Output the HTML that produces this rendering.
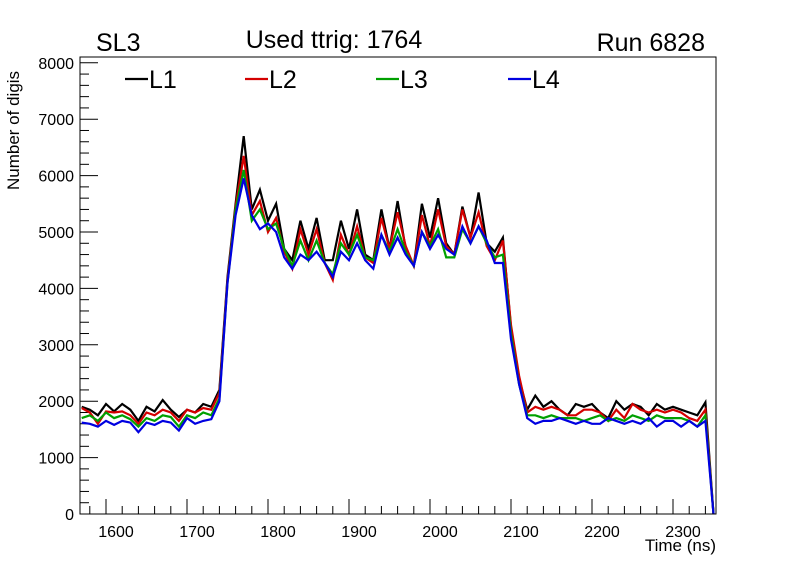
<!DOCTYPE html>
<html><head><meta charset="utf-8"><style>
html,body{margin:0;padding:0;background:#fff;}
svg{display:block;font-family:"Liberation Sans",sans-serif;}
</style></head><body>
<svg id="chart" width="796" height="572" viewBox="0 0 796 572">
<rect width="796" height="572" fill="#fff"/>
<text x="96" y="51" font-size="25">SL3</text>
<text x="334" y="48" font-size="25" text-anchor="middle">Used ttrig: 1764</text>
<text x="705" y="51" font-size="25" text-anchor="end">Run 6828</text>
<text transform="translate(19,190) rotate(-90)" font-size="17">Number of digis</text>
<text x="716" y="551" font-size="17" text-anchor="end">Time (ns)</text>
<g id="ticks"></g>
<g id="series"></g>
<rect x="80" y="57" width="636" height="457" fill="none" stroke="#000" stroke-width="1"/>
<g id="legend"></g>
</svg>
<script>
const times = [1570,1580,1590,1600,1610,1620,1630,1640,1650,1660,1670,1680,1690,1700,1710,1720,1730,1740,1750,1760,1770,1780,1790,1800,1810,1820,1830,1840,1850,1860,1870,1880,1890,1900,1910,1920,1930,1940,1950,1960,1970,1980,1990,2000,2010,2020,2030,2040,2050,2060,2070,2080,2090,2100,2110,2120,2130,2140,2150,2160,2170,2180,2190,2200,2210,2220,2230,2240,2250,2260,2270,2280,2290,2300,2310,2320,2330,2340,2350];
const l1 = [1900,1850,1750,1950,1820,1950,1850,1650,1900,1820,2020,1850,1720,1850,1800,1950,1900,2200,4200,5500,6700,5400,5750,5200,5500,4700,4500,5200,4700,5250,4500,4500,5200,4700,5400,4600,4500,5400,4700,5550,4700,4400,5500,4900,5600,4800,4600,5450,4900,5700,4800,4650,4900,3300,2400,1850,2100,1900,2000,1850,1750,1950,1900,1950,1800,1700,2000,1850,1950,1900,1750,1950,1850,1900,1850,1800,1750,1980,0];
const l2 = [1880,1800,1600,1820,1800,1820,1750,1600,1800,1750,1850,1800,1650,1850,1800,1880,1850,2150,4150,5450,6350,5300,5550,5000,5250,4650,4350,5050,4600,5050,4450,4150,4950,4600,5100,4550,4450,5250,4700,5350,4750,4400,5300,4750,5400,4750,4600,5400,4900,5350,4750,4500,4850,3350,2450,1800,1900,1850,1900,1850,1750,1750,1850,1850,1800,1650,1850,1700,1950,1850,1800,1850,1800,1850,1800,1700,1650,1850,0];
const l3 = [1700,1750,1650,1800,1700,1750,1680,1550,1700,1650,1750,1720,1550,1750,1700,1800,1750,2050,4100,5400,6100,5200,5400,5050,5150,4700,4400,4850,4500,4850,4450,4250,4800,4600,4950,4550,4500,4950,4650,5050,4650,4400,5000,4750,5050,4550,4550,5050,4800,5100,4800,4550,4600,3200,2300,1750,1750,1700,1750,1700,1700,1700,1650,1700,1750,1650,1700,1650,1750,1700,1650,1750,1700,1700,1700,1650,1550,1750,0];
const l4 = [1620,1600,1550,1650,1580,1650,1620,1450,1620,1580,1650,1620,1480,1700,1600,1650,1680,2000,4100,5300,5950,5300,5050,5150,5000,4550,4350,4600,4500,4650,4450,4200,4650,4500,4800,4500,4350,4950,4600,4900,4600,4400,5000,4700,4950,4700,4600,5100,4800,5100,4850,4450,4450,3100,2300,1700,1600,1650,1650,1700,1650,1600,1650,1600,1600,1700,1650,1600,1650,1600,1700,1550,1650,1650,1550,1650,1550,1650,0];
const seriesNames = ["L1","L2","L3","L4"];
const seriesColors = ["#000000","#d40000","#00a000","#0000e0"];
const yTicks = [0,1000,2000,3000,4000,5000,6000,7000,8000];
const xTicks = [1600,1700,1800,1900,2000,2100,2200,2300];

const NS="http://www.w3.org/2000/svg";
function X(t){return 106 + (t-1600)*0.81;}
function Y(v){return 514 - v*0.0564;}
const tg=document.getElementById('ticks');
function line(g,x1,y1,x2,y2,name,c,w){const l=document.createElementNS(NS,'line');l.setAttribute('x1',x1);l.setAttribute('y1',y1);l.setAttribute('x2',x2);l.setAttribute('y2',y2);l.setAttribute('stroke',c||'#000');l.setAttribute('stroke-width',w||1);


g.appendChild(l);return l;}
function text(g,x,y,s,anchor,size,name){const t=document.createElementNS(NS,'text');t.setAttribute('x',x);t.setAttribute('y',y);t.setAttribute('text-anchor',anchor);t.setAttribute('font-size',size);t.textContent=s;


g.appendChild(t);}
for(let v=0;v<=8000;v+=200){const y=Y(v);const major=v%1000===0;line(tg,80,y,80+(major?18:9),y,'y-tick','#000',1);}
yTicks.forEach(v=>text(tg,74,Y(v)+6,String(v),'end',16,'y-tick-label'));
for(let t=1580;t<=2350;t+=20){const x=X(t);const major=t%100===0;line(tg,x,514,x,514-(major?15:8),'x-tick','#000',1);}
xTicks.forEach(t=>text(tg,X(t)+10,537,String(t),'middle',16,'x-tick-label'));

const sg=document.getElementById('series');
[l1,l2,l3,l4].forEach((arr,i)=>{
  const p=document.createElementNS(NS,'polyline');
  p.setAttribute('points',arr.map((v,j)=>X(times[j]).toFixed(1)+','+Y(v).toFixed(1)).join(' '));
  p.setAttribute('fill','none');p.setAttribute('stroke',seriesColors[i]);p.setAttribute('stroke-width',2.2);p.setAttribute('stroke-linejoin','miter');
  
  
  sg.appendChild(p);
});
const lg=document.getElementById('legend');
const lx=[125,245,376,508];
seriesNames.forEach((n,i)=>{
  line(lg,lx[i],79,lx[i]+23,79,'legend-swatch-'+n.toLowerCase(),seriesColors[i],2.2);
  text(lg,lx[i]+24,88,n,'start',25,'legend-entry-'+n.toLowerCase());
});
</script>
</body></html>
